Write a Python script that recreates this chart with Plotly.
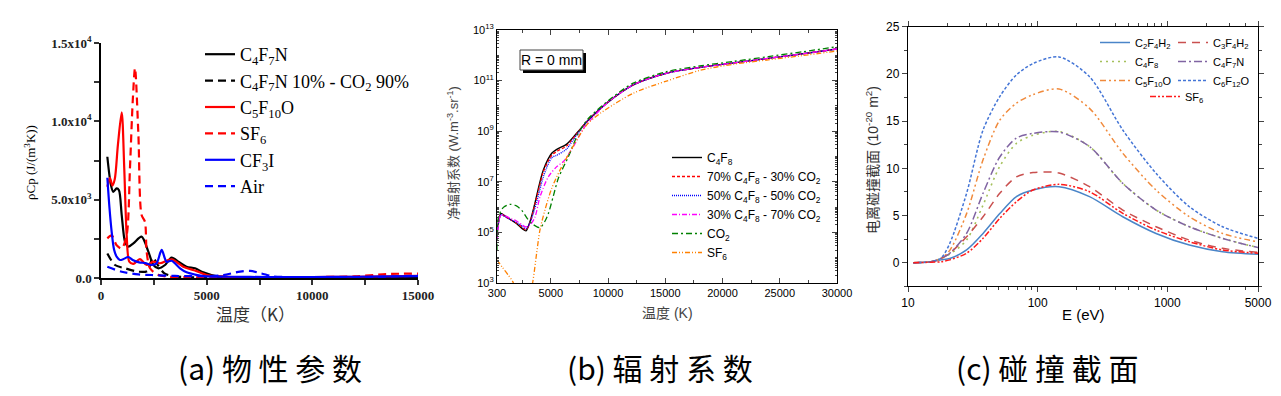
import numpy as np
import plotly.graph_objects as go

W, H = 1281, 396

# ---------------- Panel (a) data: rhoCp vs T ----------------
a_T_c4f7n = [300, 470, 580, 740, 850, 980, 1135, 1290, 1530, 1920, 2240, 2480, 2720, 3030, 3340, 3660, 4050, 4450, 4840, 5500, 6500, 8000, 10000, 12000, 15000]
a_v_c4f7n = [7740, 5930, 5500, 5720, 5600, 4020, 2320, 2000, 2210, 2640, 1680, 830, 620, 830, 1300, 1040, 720, 620, 360, 100, 40, 30, 30, 40, 50]

a_T_mix = [300, 660, 1135, 1770, 2200, 2450, 2700, 3000, 3500, 5000, 8000, 12000, 15000]
a_v_mix = [1570, 830, 620, 400, 450, 1300, 800, 300, 100, 40, 30, 40, 60]

a_T_c5f10o = [300, 425, 535, 650, 800, 980, 1100, 1215, 1340, 1530, 1840, 2160, 2470, 2790, 3340, 3890, 4520, 5000, 6000, 8000, 10000, 12000, 15000]
a_v_c5f10o = [5830, 6400, 5900, 6300, 8500, 10570, 7000, 2740, 1040, 900, 1210, 830, 1040, 940, 1190, 720, 440, 190, 80, 60, 60, 80, 130]

a_T_sf6 = [300, 505, 740, 980, 1215, 1370, 1500, 1610, 1770, 1920, 2080, 2160, 2320, 2700, 3200, 4000, 6000, 8000, 10000, 12000, 13500, 15000]
a_v_sf6 = [2530, 2720, 2090, 1880, 2740, 7000, 11250, 13400, 9120, 4020, 3590, 1680, 620, 200, 80, 50, 40, 40, 60, 100, 250, 280]

a_T_cf3i = [300, 400, 505, 620, 740, 900, 1050, 1290, 1500, 1800, 2100, 2400, 2630, 2870, 3100, 3340, 3740, 4050, 4500, 5000, 6000, 8000, 10000, 12000, 15000]
a_v_cf3i = [6400, 4500, 2950, 1800, 1360, 1150, 1200, 1340, 1150, 1000, 950, 830, 940, 1790, 1040, 1100, 620, 360, 200, 100, 80, 60, 60, 80, 120]

a_T_air = [300, 980, 1770, 2400, 3500, 5000, 5790, 6580, 7060, 7600, 8150, 9000, 11000, 13000, 15000]
a_v_air = [720, 400, 230, 190, 130, 120, 190, 410, 450, 290, 100, 60, 50, 70, 150]

# ---------------- Panel (b) data: net emission coefficient (log10 values) ----------------
b_T_c4f8 = [300, 450, 650, 1000, 1500, 2000, 2500, 2830, 3200, 3610, 4000, 4350, 5080, 5520, 6390, 7260, 8280, 10000, 12200, 15100, 18000, 21000, 24000, 27000, 30000]
b_L_c4f8 = [4.9, 5.5, 5.75, 5.65, 5.5, 5.35, 5.15, 5.06, 5.45, 6.15, 6.9, 7.47, 8.13, 8.28, 8.49, 8.92, 9.44, 10.15, 10.83, 11.29, 11.52, 11.70, 11.88, 12.06, 12.25]

b_T_70 = [300, 450, 650, 1000, 1500, 2000, 2500, 2830, 3200, 3610, 4000, 4350, 5080, 5520, 6390, 7260, 8280, 10000, 12200, 15100, 18000, 21000, 24000, 27000, 30000]
b_L_70 = [4.8, 5.45, 5.72, 5.63, 5.5, 5.37, 5.2, 5.1, 5.42, 6.1, 6.8, 7.4, 8.05, 8.2, 8.42, 8.9, 9.44, 10.15, 10.83, 11.29, 11.52, 11.70, 11.88, 12.06, 12.25]

b_T_50 = [300, 450, 650, 1000, 1500, 2000, 2500, 2830, 3200, 3610, 4000, 4350, 5080, 5520, 6100, 6390, 7260, 8280, 10000, 12200, 15100, 18000, 21000, 24000, 27000, 30000]
b_L_50 = [4.8, 5.4, 5.7, 5.62, 5.5, 5.4, 5.25, 5.15, 5.4, 5.95, 6.6, 7.2, 7.95, 8.05, 8.2, 8.3, 8.85, 9.44, 10.15, 10.83, 11.29, 11.52, 11.70, 11.88, 12.06, 12.25]

b_T_30 = [300, 450, 650, 1000, 1500, 2000, 2500, 2830, 3200, 3610, 4060, 4790, 5520, 6100, 6970, 7840, 8800, 10000, 12200, 15100, 18000, 21000, 24000, 27000, 30000]
b_L_30 = [4.7, 5.4, 5.7, 5.65, 5.55, 5.45, 5.3, 5.22, 5.3, 5.6, 6.41, 7.2, 7.6, 7.8, 8.39, 9.1, 9.6, 10.15, 10.83, 11.29, 11.52, 11.70, 11.88, 12.06, 12.25]

b_T_co2 = [300, 430, 860, 1430, 2000, 2500, 3040, 3500, 4060, 4500, 4790, 5200, 5660, 6530, 7410, 8280, 10000, 12200, 15100, 18000, 21000, 24000, 27000, 30000]
b_L_co2 = [4.3, 5.62, 5.99, 6.11, 6.05, 5.85, 5.49, 5.3, 5.19, 5.45, 5.75, 6.4, 7.14, 7.99, 8.92, 9.5, 10.2, 10.9, 11.35, 11.58, 11.76, 11.95, 12.14, 12.34]

b_T_sf6 = [300, 800, 1300, 1730, 2500, 3410, 3760, 4050, 4490, 5080, 5810, 6680, 8140, 9300, 12200, 15100, 18000, 21000, 24000, 27000, 30000]
b_L_sf6 = [3.91, 3.6, 3.3, 3.0, 1.0, 3.0, 4.17, 5.09, 5.89, 6.74, 7.47, 8.19, 9.25, 9.7, 10.5, 10.98, 11.4, 11.65, 11.82, 11.99, 12.17]

# ---------------- Panel (c) data: ionization cross sections ----------------
c_E = [11, 15, 18, 21, 28.3, 37.9, 51, 68.6, 92, 146, 251, 453, 818, 1477, 2663, 5000]
c_c2f4h2 = [0, 0.1, 0.3, 0.45, 1.35, 3.1, 5.2, 7.0, 7.7, 8.05, 7.0, 4.87, 3.1, 1.87, 1.17, 0.89]
c_c3f4h2 = [0, 0.1, 0.45, 1.0, 2.75, 4.87, 7.35, 9.1, 9.55, 9.5, 8.05, 5.58, 3.81, 2.4, 1.52, 1.1]
c_c4f8 = [0, 0.1, 0.45, 0.9, 2.4, 6.1, 10.2, 12.65, 13.5, 13.9, 12.3, 8.4, 5.58, 3.81, 2.58, 1.6]
c_c4f7n = [0, 0.1, 0.45, 1.0, 3.1, 7.35, 11.2, 13.2, 13.7, 13.85, 12.3, 8.4, 5.58, 3.81, 2.58, 1.6]
c_c5f10o = [0, 0.1, 0.45, 1.3, 5.2, 10.9, 15.1, 16.9, 17.8, 18.4, 16.35, 11.6, 7.7, 4.87, 3.1, 2.2]
c_c6f12o = [0, 0.1, 0.5, 2.05, 7.35, 14.05, 17.6, 19.9, 21.1, 21.8, 19.7, 14.06, 9.47, 5.93, 3.81, 2.58]
c_sf6 = [0, 0.05, 0.1, 0.3, 1.0, 2.58, 4.7, 6.46, 7.7, 8.3, 7.52, 5.23, 3.46, 2.22, 1.35, 1.0]

# tick labels
a_ticks = [0, 5000, 10000, 15000]
a_xlabels = ["0", "5000", "10000", "15000"]
a_ylabels = ["0.0", "5.0x10<sup>3</sup>", "1.0x10<sup>4</sup>", "1.5x10<sup>4</sup>"]
b_xticks = [300, 5000, 10000, 15000, 20000, 25000, 30000]
b_xlabels = ["300", "5000", "10000", "15000", "20000", "25000", "30000"]
b_yexp = [3, 5, 7, 9, 11, 13]
c_xticks = [10, 100, 1000, 5000]
c_xlabels = ["10", "100", "1000", "5000"]
c_yticks = [0, 5, 10, 15, 20, 25]

SERIF = "Liberation Serif"
SANS = "Liberation Sans, Arial"
CJK = "Noto Sans CJK SC"

fig = go.Figure()

def add(x, y, name, color, dash, width, ax, legend, spline=0.8):
    fig.add_trace(go.Scatter(x=x, y=y, name=name, mode="lines",
                             line=dict(color=color, dash=dash, width=width, shape="spline", smoothing=spline),
                             xaxis="x" + ax, yaxis="y" + ax, legend=legend))

# panel a
add(a_T_c4f7n, a_v_c4f7n, "C<sub>4</sub>F<sub>7</sub>N", "black", "solid", 2.2, "", "legend")
add(a_T_mix, a_v_mix, "C<sub>4</sub>F<sub>7</sub>N 10% - CO<sub>2</sub> 90%", "black", "8px,5px", 2.2, "", "legend")
add(a_T_c5f10o, a_v_c5f10o, "C<sub>5</sub>F<sub>10</sub>O", "#ff0000", "solid", 2.2, "", "legend")
add(a_T_sf6, a_v_sf6, "SF<sub>6</sub>", "#ff0000", "8px,5px", 2.2, "", "legend")
add(a_T_cf3i, a_v_cf3i, "CF<sub>3</sub>I", "#0000ff", "solid", 2.2, "", "legend")
add(a_T_air, a_v_air, "Air", "#0000ff", "8px,5px", 2.2, "", "legend")

# panel b
pw = lambda L: [10 ** v for v in L]
add(b_T_c4f8, pw(b_L_c4f8), "C<sub>4</sub>F<sub>8</sub>", "black", "solid", 1.4, "2", "legend2")
add(b_T_70, pw(b_L_70), "70% C<sub>4</sub>F<sub>8</sub> - 30% CO<sub>2</sub>", "#ff0000", "3px,2px", 1.3, "2", "legend2")
add(b_T_50, pw(b_L_50), "50% C<sub>4</sub>F<sub>8</sub> - 50% CO<sub>2</sub>", "#0000ff", "1px,1px", 1.3, "2", "legend2")
add(b_T_30, pw(b_L_30), "30% C<sub>4</sub>F<sub>8</sub> - 70% CO<sub>2</sub>", "#ff00ff", "5px,2px,1px,2px", 1.3, "2", "legend2")
add(b_T_co2, pw(b_L_co2), "CO<sub>2</sub>", "#008000", "6px,3px,2px,3px", 1.3, "2", "legend2")
add(b_T_sf6, pw(b_L_sf6), "SF<sub>6</sub>", "#ff8000", "5px,2px,1px,2px,1px,2px", 1.3, "2", "legend2")

# panel c
add(c_E, c_c2f4h2, "C<sub>2</sub>F<sub>4</sub>H<sub>2</sub>", "#4a85c8", "solid", 1.5, "3", "legend3")
add(c_E, c_c4f8, "C<sub>4</sub>F<sub>8</sub>", "#a5c05b", "2px,4px", 1.6, "3", "legend3")
add(c_E, c_c5f10o, "C<sub>5</sub>F<sub>10</sub>O", "#f08a3c", "6px,3px,2px,3px,2px,3px", 1.5, "3", "legend3")
add(c_E, c_c3f4h2, "C<sub>3</sub>F<sub>4</sub>H<sub>2</sub>", "#c9504f", "8px,6px", 1.5, "3", "legend4")
add(c_E, c_c4f7n, "C<sub>4</sub>F<sub>7</sub>N", "#8064a2", "8px,3px,2px,3px", 1.5, "3", "legend4")
add(c_E, c_c6f12o, "C<sub>6</sub>F<sub>12</sub>O", "#4475d6", "3px,2px", 1.5, "3", "legend4")
add(c_E, c_sf6, "SF<sub>6</sub>", "#ff1a1a", "6px,2px,2px,2px,2px,2px", 1.5, "3", "legend5")

def dx(p0, p1):
    return [p0 / W, p1 / W]

def dy(top, bottom):
    return [1 - bottom / H, 1 - top / H]

axis_common = dict(showline=True, linecolor="black", showgrid=False, zeroline=False, automargin=False)

b_minor_y = [m * 10 ** e for e in range(3, 13) for m in range(1, 10) if not (m == 1 and e % 2 == 1)]
c_minor_x = [m * 10 ** e for e in range(1, 4) for m in range(2, 10) if m * 10 ** e < 5000]

leg_common = dict(bgcolor="rgba(0,0,0,0)", borderwidth=0, xref="paper", yref="paper",
                  xanchor="left", yanchor="top", orientation="v", traceorder="normal")

fig.update_layout(
    width=W, height=H, margin=dict(l=0, r=0, t=0, b=0, pad=0, autoexpand=False),
    paper_bgcolor="white", plot_bgcolor="white",
    showlegend=True,
    xaxis=dict(**axis_common, domain=dx(101, 418), range=[0, 15000], anchor="y",
               tickmode="array", tickvals=a_ticks, ticktext=a_xlabels,
               ticks="outside", ticklen=5, tickwidth=1.5, linewidth=1.5, tickcolor="#333",
               minor=dict(dtick=2500, tick0=0, ticks="outside", ticklen=5, tickwidth=1.5, tickcolor="#333"),
               tickfont=dict(family=SERIF, size=13, color="#222", weight="bold")),
    yaxis=dict(**axis_common, domain=dy(43, 278), range=[0, 15000], anchor="x",
               tickmode="array", tickvals=a_ticks, ticktext=a_ylabels,
               ticks="outside", ticklen=5, tickwidth=1.5, linewidth=1.5, tickcolor="#333",
               minor=dict(dtick=2500, tick0=0, ticks="outside", ticklen=5, tickwidth=1.5, tickcolor="#333"),
               tickfont=dict(family=SERIF, size=13, color="#222", weight="bold")),
    xaxis2=dict(**axis_common, domain=dx(497, 837), range=[300, 30000], anchor="y2",
                tickmode="array", tickvals=b_xticks, ticktext=b_xlabels,
                ticks="inside", ticklen=5, linewidth=1.2, mirror="allticks",
                minor=dict(dtick=2500, tick0=0, ticks="inside", ticklen=3),
                tickfont=dict(family=SANS, size=11, color="black")),
    yaxis2=dict(**axis_common, domain=dy(30, 283), type="log", range=[3, 13], anchor="x2",
                tickmode="array", tickvals=[10 ** e for e in b_yexp],
                ticktext=["10<sup>%d</sup>" % e for e in b_yexp],
                ticks="inside", ticklen=5, linewidth=1.2, mirror="allticks",
                minor=dict(tickmode="array", tickvals=b_minor_y, ticks="inside", ticklen=2),
                tickfont=dict(family=SANS, size=11, color="black")),
    xaxis3=dict(**axis_common, domain=dx(908, 1258), type="log", range=[1, np.log10(5000)], anchor="y3",
                tickmode="array", tickvals=c_xticks, ticktext=c_xlabels,
                ticks="outside", ticklen=5, linewidth=1.3, mirror="allticks",
                minor=dict(tickmode="array", tickvals=c_minor_x, ticks="outside", ticklen=3),
                tickfont=dict(family=SANS, size=12, color="black")),
    yaxis3=dict(**axis_common, domain=dy(26.7, 286.3), range=[-2.5, 25], anchor="x3",
                tickmode="array", tickvals=c_yticks,
                ticks="outside", ticklen=5, linewidth=1.3, mirror="allticks",
                minor=dict(dtick=2.5, tick0=0, ticks="outside", ticklen=3),
                tickfont=dict(family=SANS, size=12, color="black")),
    legend=dict(**leg_common, x=200 / W, y=1 - 36 / H,
                font=dict(family=SERIF, size=18, color="black")),
    legend2=dict(**leg_common, x=667 / W, y=1 - 143 / H,
                 font=dict(family=SANS, size=12, color="black")),
    legend3=dict(**leg_common, x=1095 / W, y=1 - 28 / H,
                 font=dict(family=SANS, size=11, color="black")),
    legend4=dict(**leg_common, x=1173 / W, y=1 - 28 / H,
                 font=dict(family=SANS, size=11, color="black")),
    legend5=dict(**leg_common, x=1145 / W, y=1 - 82 / H,
                 font=dict(family=SANS, size=11, color="black")),
)

def ann(text, xp, yp, size, family, angle=0, color="black"):
    fig.add_annotation(text=text, x=xp / W, y=1 - yp / H, xref="paper", yref="paper",
                       showarrow=False, textangle=angle, xanchor="center", yanchor="middle",
                       font=dict(family=family, size=size, color=color))

# axis titles
ann("ρCp (J/(m<sup>3</sup>K))", 30, 163, 13, SERIF, -90)
ann("温度（K）", 255, 313, 17, CJK, 0, "#333")
ann("净辐射系数 (W.m<sup>-3</sup>.sr<sup>-1</sup>)", 453, 153, 13, SANS + ", " + CJK, -90, "#444")
ann("温度 (K)", 667, 313, 14, SANS + ", " + CJK, 0, "#444")
ann("电离碰撞截面 (10<sup>-20</sup> m<sup>2</sup>)", 872, 160, 14, SANS + ", " + CJK, -90, "#333")
ann("E (eV)", 1083, 314, 15, SANS, 0)

# R = 0 mm box with shadow
fig.add_shape(type="rect", xref="paper", yref="paper", x0=523 / W, x1=586 / W, y0=1 - 73 / H, y1=1 - 53 / H,
              fillcolor="black", line=dict(width=0))
fig.add_shape(type="rect", xref="paper", yref="paper", x0=520 / W, x1=583 / W, y0=1 - 70 / H, y1=1 - 50 / H,
              fillcolor="white", line=dict(color="#444", width=1))
ann("R = 0 mm", 551.5, 60, 14, SANS)

# captions
ann("(a) 物 性 参 数", 270, 367, 30, CJK)
ann("(b) 辐 射 系 数", 660, 367, 30, CJK)
ann("(c) 碰 撞 截 面", 1047, 367, 30, CJK)

fig.write_html("out.html", config={"displayModeBar": False},
               post_script="document.body.style.margin='0';document.body.style.padding='0';")
